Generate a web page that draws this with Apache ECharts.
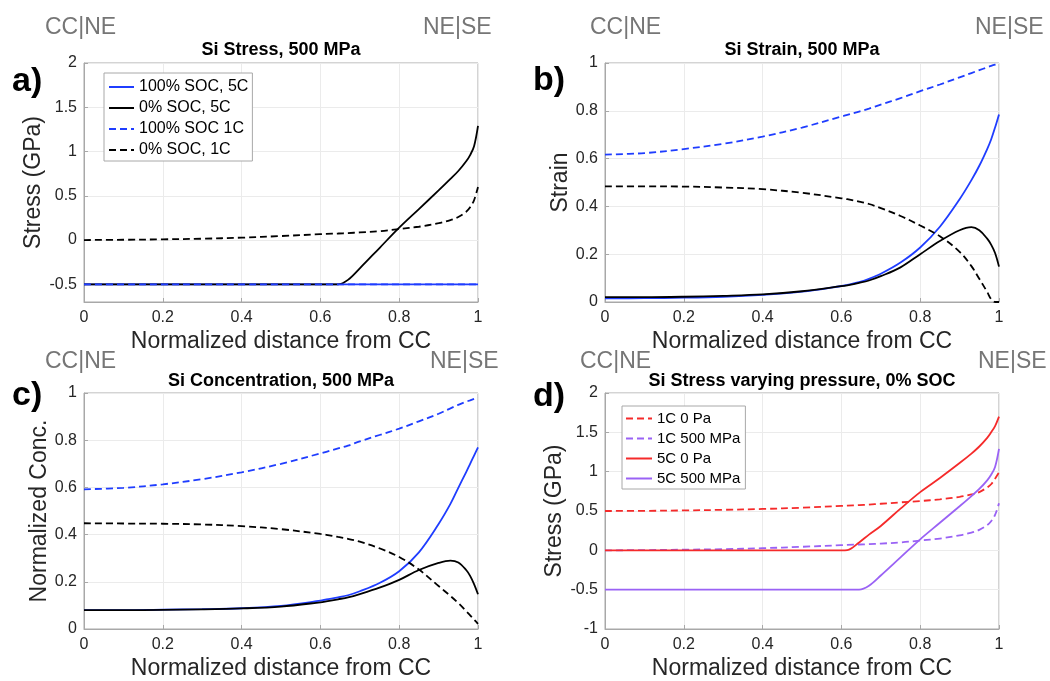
<!DOCTYPE html>
<html>
<head>
<meta charset="utf-8">
<script src="https://cdn.jsdelivr.net/npm/echarts@6/dist/echarts.min.js"></script>
<style>
  html, body { margin: 0; padding: 0; background: #fff; }
  #chart { width: 1050px; height: 681px; }
</style>
</head>
<body>
<div id="chart"></div>
<script>
// normalized distance from CC, shared by every curve
const xs = [0, 0.1, 0.2, 0.3, 0.4, 0.5, 0.6, 0.615, 0.645, 0.67, 0.7, 0.75, 0.8, 0.85, 0.9, 0.93, 0.95, 0.97, 0.98, 0.99, 1];

// a) Si stress, 500 MPa (GPa)
const aSoc100_5C = [-0.5, -0.5, -0.5, -0.5, -0.5, -0.5, -0.5, -0.5, -0.5, -0.5, -0.5, -0.5, -0.5, -0.5, -0.5, -0.5, -0.5, -0.5, -0.5, -0.5, -0.5];
const aSoc0_5C = [-0.5, -0.5, -0.5, -0.5, -0.5, -0.5, -0.5, -0.5, -0.5, -0.45, -0.32, -0.09, 0.14, 0.35, 0.56, 0.69, 0.78, 0.89, 0.96, 1.06, 1.29];
const aSoc100_1C = [-0.5, -0.5, -0.5, -0.5, -0.5, -0.5, -0.5, -0.5, -0.5, -0.5, -0.5, -0.5, -0.5, -0.5, -0.5, -0.5, -0.5, -0.5, -0.5, -0.5, -0.5];
const aSoc0_1C = [0, 0.003, 0.008, 0.015, 0.027, 0.045, 0.066, 0.069, 0.074, 0.079, 0.086, 0.1, 0.125, 0.15, 0.19, 0.225, 0.26, 0.32, 0.37, 0.45, 0.6];

// b) Si strain, 500 MPa
const bSoc100_5C = [0.015, 0.016, 0.018, 0.022, 0.03, 0.043, 0.067, 0.072, 0.083, 0.097, 0.118, 0.165, 0.228, 0.315, 0.43, 0.51, 0.57, 0.64, 0.68, 0.73, 0.785];
const bSoc0_5C = [0.02, 0.02, 0.022, 0.026, 0.032, 0.045, 0.066, 0.07, 0.08, 0.09, 0.108, 0.145, 0.2, 0.255, 0.3, 0.313, 0.3, 0.265, 0.24, 0.205, 0.148];
const bSoc100_1C = [0.617, 0.623, 0.64, 0.662, 0.692, 0.73, 0.776, 0.783, 0.797, 0.809, 0.826, 0.853, 0.882, 0.91, 0.94, 0.958, 0.97, 0.982, 0.988, 0.993, 0.997];
const bSoc0_1C = [0.484, 0.484, 0.483, 0.479, 0.472, 0.457, 0.434, 0.43, 0.42, 0.41, 0.393, 0.36, 0.32, 0.275, 0.21, 0.15, 0.097, 0.042, 0.012, 0, 0];

// c) Si concentration, 500 MPa
const cSoc100_5C = [0.08, 0.08, 0.082, 0.084, 0.088, 0.098, 0.12, 0.125, 0.134, 0.143, 0.16, 0.195, 0.245, 0.325, 0.445, 0.53, 0.598, 0.665, 0.7, 0.735, 0.77];
const cSoc0_5C = [0.08, 0.08, 0.081, 0.083, 0.087, 0.095, 0.113, 0.117, 0.126, 0.134, 0.148, 0.175, 0.208, 0.25, 0.28, 0.29, 0.282, 0.25, 0.225, 0.19, 0.147];
const cSoc100_1C = [0.592, 0.598, 0.613, 0.635, 0.664, 0.7, 0.744, 0.751, 0.765, 0.777, 0.795, 0.822, 0.849, 0.88, 0.912, 0.935, 0.95, 0.963, 0.969, 0.975, 0.981];
const cSoc0_1C = [0.448, 0.447, 0.446, 0.443, 0.436, 0.423, 0.403, 0.399, 0.39, 0.382, 0.37, 0.342, 0.305, 0.252, 0.182, 0.14, 0.11, 0.076, 0.058, 0.04, 0.022];

// d) Si stress varying pressure, 0% SOC (GPa)
const d1C_0Pa = [0.5, 0.502, 0.507, 0.515, 0.526, 0.542, 0.565, 0.568, 0.575, 0.582, 0.592, 0.61, 0.627, 0.648, 0.68, 0.71, 0.74, 0.8, 0.84, 0.91, 0.99];
const d1C_500 = [0, 0.003, 0.008, 0.015, 0.027, 0.045, 0.066, 0.069, 0.074, 0.079, 0.086, 0.1, 0.125, 0.15, 0.19, 0.225, 0.26, 0.32, 0.37, 0.45, 0.6];
const d5C_0Pa = [0, 0, 0, 0, 0, 0, 0, 0.003, 0.1, 0.2, 0.31, 0.53, 0.74, 0.92, 1.11, 1.23, 1.32, 1.43, 1.5, 1.58, 1.7];
const d5C_500 = [-0.5, -0.5, -0.5, -0.5, -0.5, -0.5, -0.5, -0.5, -0.5, -0.45, -0.32, -0.09, 0.14, 0.35, 0.56, 0.69, 0.78, 0.89, 0.96, 1.06, 1.29];

// tick labels
const stressTicksA = [-0.5, 0, 0.5, 1, 1.5, 2];

const FONT = "'Liberation Sans', Arial, sans-serif";
const BLUE = "#1f3dff";
const BLACK = "#000000";
const RED = "#f52a2a";
const PURPLE = "#9a62f5";
const BOX = "#a8a8a8";
const GRAY_TXT = "#767676";
const DASH = [7, 4];

const pts = (ys) => xs.map((x, i) => [x, ys[i]]);

const line = (name, idx, ys, color, dashed) => ({
  name: name,
  type: "line",
  xAxisIndex: idx,
  yAxisIndex: idx,
  data: pts(ys),
  symbol: "none",
  smooth: 0.35,
  lineStyle: { color: color, width: 1.8, type: dashed ? DASH : "solid" },
  itemStyle: { color: color },
  emphasis: { disabled: true },
});

const grids = [
  { left: 84, top: 63, width: 394, height: 239 },
  { left: 605, top: 63, width: 394, height: 239 },
  { left: 84, top: 393, width: 394, height: 238 },
  { left: 605, top: 393, width: 394, height: 238 },
].map((g) => ({ ...g, show: true, borderColor: BOX, borderWidth: 1, backgroundColor: "transparent" }));

const xAxes = [0, 1, 2, 3].map((i) => ({
  gridIndex: i,
  type: "value",
  min: 0,
  max: 1,
  interval: 0.2,
  name: "Normalized distance from CC",
  nameLocation: "middle",
  nameGap: 28,
  nameTextStyle: { fontFamily: FONT, fontSize: 23, color: "#262626" },
  axisLine: { show: true, onZero: false, lineStyle: { color: BOX } },
  axisTick: { show: true, inside: true, length: 4, lineStyle: { color: BOX } },
  axisLabel: { fontFamily: FONT, fontSize: 16, color: "#262626", margin: 8 },
  splitLine: { show: true, lineStyle: { color: "#ebebeb" } },
}));

const yBase = (i, name, gap) => ({
  gridIndex: i,
  type: "value",
  name: name,
  nameLocation: "middle",
  nameGap: gap,
  nameTextStyle: { fontFamily: FONT, fontSize: 23, color: "#262626" },
  axisLine: { show: true, onZero: false, lineStyle: { color: BOX } },
  axisTick: { show: true, inside: true, length: 4, lineStyle: { color: BOX } },
  axisLabel: { fontFamily: FONT, fontSize: 16, color: "#262626", margin: 7 },
  splitLine: { show: true, lineStyle: { color: "#ebebeb" } },
});

const yAxes = [
  {
    ...yBase(0, "Stress (GPa)", 30),
    min: -0.7,
    max: 2,
    axisLabel: { fontFamily: FONT, fontSize: 16, color: "#262626", margin: 7, customValues: stressTicksA },
    axisTick: { show: true, inside: true, length: 4, lineStyle: { color: BOX }, customValues: stressTicksA },
  },
  { ...yBase(1, "Strain", 28), min: 0, max: 1, interval: 0.2 },
  { ...yBase(2, "Normalized Conc.", 25), min: 0, max: 1, interval: 0.2 },
  { ...yBase(3, "Stress (GPa)", 32), min: -1, max: 2, interval: 0.5 },
];

const titleStyle = { fontFamily: FONT, fontSize: 18, fontWeight: "bold", color: "#000" };
const titles = [
  { text: "Si Stress, 500 MPa", left: 281, top: 41 },
  { text: "Si Strain, 500 MPa", left: 802, top: 41 },
  { text: "Si Concentration, 500 MPa", left: 281, top: 372 },
  { text: "Si Stress varying pressure, 0% SOC", left: 802, top: 372 },
].map((t) => ({ ...t, textAlign: "center", padding: 0, textStyle: titleStyle }));

const legendBase = {
  orient: "vertical",
  backgroundColor: "#fff",
  borderColor: BOX,
  borderWidth: 1,
  borderRadius: 0,
  selectedMode: false,
  itemStyle: { opacity: 0 },
};

const legends = [
  {
    ...legendBase,
    left: 104,
    top: 73,
    padding: [6, 4, 3, 4],
    itemWidth: 25,
    itemHeight: 14,
    itemGap: 5,
    textStyle: { fontFamily: FONT, fontSize: 16, lineHeight: 14, color: "#000" },
    data: ["100% SOC, 5C", "0% SOC, 5C", "100% SOC 1C", "0% SOC, 1C"],
  },
  {
    ...legendBase,
    left: 622,
    top: 406,
    padding: [5, 5, 3, 3],
    itemWidth: 26,
    itemHeight: 12,
    itemGap: 5,
    textStyle: { fontFamily: FONT, fontSize: 15, lineHeight: 12, color: "#000" },
    data: ["1C 0 Pa", "1C 500 MPa", "5C 0 Pa", "5C 500 MPa"],
  },
];

const txt = (text, x, y, font, fill) => ({
  type: "text",
  x: x,
  y: y,
  style: { text: text, font: font, fill: fill, align: "left", verticalAlign: "middle" },
});
const sideFont = "23px " + FONT;
const letterFont = "bold 34px " + FONT;

const graphics = [
  txt("CC|NE", 45, 28, sideFont, GRAY_TXT),
  txt("NE|SE", 423, 28, sideFont, GRAY_TXT),
  txt("CC|NE", 590, 28, sideFont, GRAY_TXT),
  txt("NE|SE", 975, 28, sideFont, GRAY_TXT),
  txt("CC|NE", 45, 362, sideFont, GRAY_TXT),
  txt("NE|SE", 430, 362, sideFont, GRAY_TXT),
  txt("CC|NE", 580, 362, sideFont, GRAY_TXT),
  txt("NE|SE", 978, 362, sideFont, GRAY_TXT),
  txt("a)", 12, 82, letterFont, "#000"),
  txt("b)", 533, 81, letterFont, "#000"),
  txt("c)", 12, 396, letterFont, "#000"),
  txt("d)", 533, 397, letterFont, "#000"),
];

const series = [
  line("100% SOC, 5C", 0, aSoc100_5C, BLUE, false),
  line("0% SOC, 5C", 0, aSoc0_5C, BLACK, false),
  line("100% SOC 1C", 0, aSoc100_1C, BLUE, true),
  line("0% SOC, 1C", 0, aSoc0_1C, BLACK, true),

  line("b 100% SOC, 5C", 1, bSoc100_5C, BLUE, false),
  line("b 0% SOC, 5C", 1, bSoc0_5C, BLACK, false),
  line("b 100% SOC 1C", 1, bSoc100_1C, BLUE, true),
  line("b 0% SOC, 1C", 1, bSoc0_1C, BLACK, true),

  line("c 100% SOC, 5C", 2, cSoc100_5C, BLUE, false),
  line("c 0% SOC, 5C", 2, cSoc0_5C, BLACK, false),
  line("c 100% SOC 1C", 2, cSoc100_1C, BLUE, true),
  line("c 0% SOC, 1C", 2, cSoc0_1C, BLACK, true),

  line("1C 0 Pa", 3, d1C_0Pa, RED, true),
  line("1C 500 MPa", 3, d1C_500, PURPLE, true),
  line("5C 0 Pa", 3, d5C_0Pa, RED, false),
  line("5C 500 MPa", 3, d5C_500, PURPLE, false),
];

const chart = echarts.init(document.getElementById("chart"), null, { renderer: "canvas" });
chart.setOption({
  animation: false,
  backgroundColor: "#fff",
  title: titles,
  legend: legends,
  grid: grids,
  xAxis: xAxes,
  yAxis: yAxes,
  graphic: graphics,
  series: series,
});
</script>
</body>
</html>
